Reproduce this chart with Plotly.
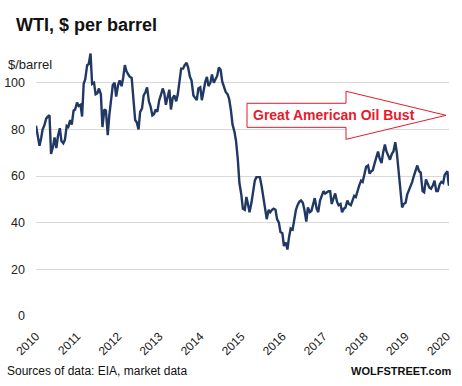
import plotly.graph_objects as go

# ---- data (roughly twice a month) ----
years = list(range(2010, 2020))
half_month_days = ["01", "15"]

price_2010 = [81.5, 78.0, 73.0, 76.0, 80.0, 81.5, 84.5, 85.5, 86.0, 69.5, 72.5, 76.5,
              72.0, 77.0, 80.5, 75.0, 74.0, 75.5, 81.5, 81.0, 84.0, 82.0, 88.0, 88.5]
price_2011 = [91.5, 90.0, 90.5, 85.5, 99.5, 101.5, 107.5, 108.0, 112.5, 99.5, 100.0, 95.0,
              95.5, 97.5, 95.0, 81.0, 88.5, 88.0, 77.5, 86.0, 93.0, 99.0, 100.0, 94.0]
price_2012 = [99.0, 101.0, 98.5, 102.0, 107.5, 105.0, 103.5, 102.5, 102.0, 94.0, 84.0, 83.0,
              80.0, 87.5, 89.0, 94.5, 96.0, 98.0, 92.0, 90.0, 86.0, 86.5, 88.5, 87.5]
price_2013 = [92.5, 94.5, 97.5, 95.5, 90.5, 93.5, 97.0, 88.5, 93.5, 94.5, 92.0, 95.0,
              100.0, 106.0, 106.0, 107.5, 108.5, 106.5, 102.5, 101.0, 94.5, 93.5, 92.5, 97.5]
price_2014 = [98.0, 92.5, 97.5, 100.5, 102.5, 98.5, 100.0, 103.5, 100.0, 101.5, 103.0, 106.5,
              105.5, 100.5, 98.0, 96.0, 95.0, 93.0, 88.0, 82.0, 79.0, 75.0, 67.0, 57.0]
price_2015 = [52.0, 46.0, 45.5, 51.0, 48.0, 44.5, 48.5, 54.0, 58.0, 59.5, 59.5, 59.5,
              55.5, 51.5, 46.0, 41.5, 45.5, 44.5, 45.5, 46.0, 45.5, 41.5, 40.0, 36.0]
price_2016 = [35.5, 30.0, 31.5, 28.5, 34.0, 37.5, 37.0, 41.5, 45.5, 47.5, 49.0, 49.5,
              48.5, 45.5, 40.5, 46.5, 44.5, 45.0, 48.5, 50.5, 46.0, 44.5, 49.5, 51.5]
price_2017 = [53.5, 52.5, 53.0, 53.5, 53.5, 48.0, 50.5, 52.5, 49.0, 47.5, 48.0, 44.5,
              46.0, 46.5, 49.5, 48.0, 47.5, 49.5, 51.5, 51.0, 54.5, 56.0, 58.0, 57.5]
price_2018 = [61.0, 64.0, 64.5, 61.0, 62.0, 62.5, 65.5, 68.0, 70.5, 67.5, 65.5, 70.0,
              73.5, 70.5, 68.5, 67.0, 69.5, 70.5, 74.5, 70.0, 61.5, 54.0, 46.5, 48.0]
price_2019 = [48.5, 52.0, 54.0, 55.5, 57.5, 60.0, 62.5, 64.5, 62.0, 61.5, 53.5, 53.0,
              58.5, 56.5, 55.0, 54.5, 56.0, 58.0, 53.5, 53.5, 56.5, 57.5, 57.0, 60.5]
dates_2020 = ["2020-01-01", "2020-01-08", "2020-01-15", "2020-01-22"]
price_2020 = [61.5, 62.0, 58.0, 55.8]

yearly_prices = [price_2010, price_2011, price_2012, price_2013, price_2014,
                 price_2015, price_2016, price_2017, price_2018, price_2019]

dates = []
prices = []
for yr, vals in zip(years, yearly_prices):
    i = 0
    for m in range(1, 13):
        for d in half_month_days:
            dates.append(f"{yr}-{m:02d}-{d}")
            prices.append(vals[i])
            i += 1
dates += dates_2020
prices += price_2020

y_ticks = [0, 20, 40, 60, 80, 100]
x_tick_years = [str(y) for y in range(2010, 2021)]

title_text = "WTI, $ per barrel"
unit_text = "$/barrel"
arrow_text = "Great American Oil Bust"
source_text = "Sources of data: EIA, market data"
brand_text = "WOLFSTREET.com"

LINE = "#203864"
RED = "#e8192c"
FONT = "Liberation Sans, Arial, sans-serif"

# plot-area pixel geometry
L, R, T, B = 36, 449, 36.1, 315.7
W, H = 462, 386

def px_x(p):
    return (p - L) / (R - L)

def px_y(p):
    return (B - p) / (B - T)

fig = go.Figure()
fig.add_trace(go.Scatter(x=dates, y=prices, mode="lines",
                         line=dict(color=LINE, width=2.4), hoverinfo="skip"))

# Block arrow (paper coordinates)
x0, xb, xt = px_x(247), px_x(346), px_x(446)
yt, yb1, ym, yb2, ybt = px_y(91.3), px_y(103.3), px_y(115.3), px_y(127.3), px_y(139.3)
path = (f"M {x0},{yb1} L {xb},{yb1} L {xb},{yt} L {xt},{ym} L {xb},{ybt} "
        f"L {xb},{yb2} L {x0},{yb2} Z")
fig.add_shape(type="path", path=path, xref="paper", yref="paper",
              line=dict(color=RED, width=1), fillcolor="white", layer="above")

fig.add_annotation(x=px_x(251), y=ym, xref="paper", yref="paper", text=arrow_text,
                   showarrow=False, xanchor="left", yanchor="middle",
                   font=dict(family=FONT, size=14, color=RED, weight="bold"))

fig.add_annotation(x=px_x(14), y=px_y(25), xref="paper", yref="paper", text=title_text,
                   showarrow=False, xanchor="left", yanchor="middle",
                   font=dict(family=FONT, size=18, color="#111111", weight="bold"))
fig.add_annotation(x=px_x(6), y=px_y(65), xref="paper", yref="paper", text=unit_text,
                   showarrow=False, xanchor="left", yanchor="middle",
                   font=dict(family=FONT, size=13, color="#222222"))
fig.add_annotation(x=px_x(5), y=px_y(371), xref="paper", yref="paper", text=source_text,
                   showarrow=False, xanchor="left", yanchor="middle",
                   font=dict(family=FONT, size=12, color="#111111"))
fig.add_annotation(x=px_x(453), y=px_y(371), xref="paper", yref="paper", text=brand_text,
                   showarrow=False, xanchor="right", yanchor="middle",
                   font=dict(family=FONT, size=11, color="#111111", weight="bold"))

fig.update_layout(
    width=W, height=H,
    margin=dict(l=L, r=W - R, t=T, b=H - B),
    paper_bgcolor="white", plot_bgcolor="white",
    showlegend=False,
    font=dict(family=FONT, size=12, color="#222222"),
    xaxis=dict(type="date", range=["2010-01-01", "2020-01-22"],
               tickvals=[f"{y}-01-01" for y in x_tick_years], ticktext=x_tick_years,
               tickangle=-45, showgrid=False, zeroline=False, showline=False,
               ticks="", automargin=False, ticklabelstandoff=10,
               tickfont=dict(size=12, color="#222222")),
    yaxis=dict(range=[0, 120], tickvals=y_ticks, showgrid=True,
               gridcolor="#d9d9d9", gridwidth=1, zeroline=False, showline=False,
               ticks="", automargin=False, ticklabelstandoff=10,
               tickfont=dict(size=12.5, color="#222222")),
)

fig.write_html("out.html", config={"displayModeBar": False, "staticPlot": True})

# remove the browser's default page margin so the figure sits at (0, 0)
with open("out.html", "r", encoding="utf-8") as f:
    html = f.read()
html = html.replace("<head>", "<head><style>html,body{margin:0;padding:0;overflow:hidden;}</style>", 1)
with open("out.html", "w", encoding="utf-8") as f:
    f.write(html)
